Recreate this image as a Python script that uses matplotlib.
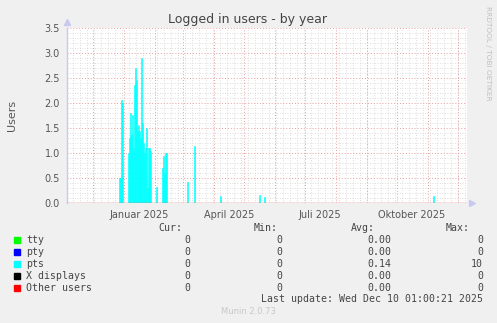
import matplotlib
matplotlib.use('Agg')
import matplotlib.pyplot as plt
import matplotlib.dates as mdates
from matplotlib.patches import Rectangle
import pandas as pd
import numpy as np

# daily averages of the pts users (all other days are 0)
pts_days = ['2024-12-27', '2024-12-28', '2024-12-29', '2024-12-30',
            '2025-01-05', '2025-01-06', '2025-01-07', '2025-01-08', '2025-01-09',
            '2025-01-10', '2025-01-11', '2025-01-12', '2025-01-13', '2025-01-14',
            '2025-01-15', '2025-01-16', '2025-01-17', '2025-01-18', '2025-01-19',
            '2025-01-20', '2025-01-21', '2025-01-22', '2025-01-23', '2025-01-24',
            '2025-01-25', '2025-01-26', '2025-01-27',
            '2025-02-02', '2025-02-08', '2025-02-09', '2025-02-10', '2025-02-11',
            '2025-02-12', '2025-03-05', '2025-03-12', '2025-04-07', '2025-05-16',
            '2025-05-21', '2025-11-06']
pts_vals = [0.5, 0.5, 2.05, 2.0,
            1.0, 1.3, 1.8, 1.35, 1.75,
            1.1, 2.35, 2.7, 2.45, 1.45,
            1.55, 1.45, 1.3, 2.9, 1.6,
            1.2, 1.0, 1.1, 1.5, 0.3,
            1.1, 1.1, 1.05,
            0.32, 0.7, 0.95, 0.6, 1.0,
            1.0, 0.42, 1.15, 0.15, 0.17,
            0.12, 0.14]

start = pd.Timestamp('2024-11-05 01:00')
end = pd.Timestamp('2025-12-10 01:00')

month_labels = ['Januar 2025', 'April 2025', 'Juli 2025', 'Oktober 2025']
month_label_dates = ['2025-01-16', '2025-04-16', '2025-07-16', '2025-10-16']

legend_names = ['tty', 'pty', 'pts', 'X displays', 'Other users']
legend_colors = ['#00ff00', '#0000ff', '#00ffff', '#000000', '#ff0000']
cur = ['0', '0', '0', '0', '0']
mins = ['0', '0', '0', '0', '0']
avgs = ['0.00', '0.00', '0.14', '0.00', '0.00']
maxs = ['0', '0', '10', '0', '0']

W, H = 497, 323
fig = plt.figure(figsize=(W / 100, H / 100), dpi=100, facecolor='#f0f0f0')
ax = fig.add_axes([67 / W, (H - 203) / H, 400 / W, 175 / H], facecolor='white')

days = pd.date_range(start.normalize(), end.normalize(), freq='D')
series = pd.Series(0.0, index=days)
series[pd.to_datetime(pts_days)] = pts_vals

ax.set_xlim(mdates.date2num(start), mdates.date2num(end))
ax.set_ylim(0, 3.5)

# grid: weekly minor (gray), monthly major (red), 0.1 / 0.5 on y
for d in pd.date_range(start, end, freq='W-MON'):
    ax.axvline(mdates.date2num(d), color='#d4d4d4', lw=0.6, ls=(0, (1, 2)), zorder=1)
for v in np.arange(0.1, 3.5, 0.1):
    if abs(v * 2 - round(v * 2)) > 1e-6:
        ax.axhline(v, color='#d4d4d4', lw=0.6, ls=(0, (1, 2)), zorder=1)
for d in pd.date_range(start, end, freq='MS'):
    ax.axvline(mdates.date2num(d), color='#e8a0a0', lw=0.7, ls=(0, (1, 2)), zorder=1.5)
for v in np.arange(0.5, 3.51, 0.5):
    ax.axhline(v, color='#e8a0a0', lw=0.7, ls=(0, (1, 2)), zorder=1.5)

# pts area, one bar per day
nz = series[series > 0]
ax.bar(mdates.date2num(nz.index), nz.values, width=1.0, align='edge',
       color='#00ffff', edgecolor='#00ffff', lw=0.4, zorder=2)
ax.axhline(0, color='#e06060', lw=1.0, zorder=3)

for s in ['top', 'right', 'bottom']:
    ax.spines[s].set_visible(False)
ax.spines['left'].set_color('#c8c8f0')
ax.spines['left'].set_linewidth(1)

ax.plot([0], [1.035], marker='^', ms=4, color='#c8c8f0', transform=ax.transAxes, clip_on=False)
ax.plot([1.013], [0], marker='>', ms=4, color='#c8c8f0', transform=ax.transAxes, clip_on=False)

ax.set_yticks(np.arange(0, 3.51, 0.5))
ax.set_yticklabels(['%.1f' % v for v in np.arange(0, 3.51, 0.5)])
ax.set_xticks(mdates.date2num(pd.to_datetime(month_label_dates)))
ax.set_xticklabels(month_labels)
ax.tick_params(length=0, labelsize=7, colors='#555555', pad=5)
ax.set_ylabel('Users', fontsize=8, color='#555555')
ax.yaxis.set_label_coords(-0.124, 0.5)

fig.text(248 / W, 1 - 19 / H, 'Logged in users - by year', ha='center', va='center',
         fontsize=9, color='#444444')
fig.text(488 / W, 1 - 53 / H, 'RRDTOOL / TOBI OETIKER', rotation=270, ha='center',
         va='center', fontsize=5.3, color='#c0c0c0')

mono = dict(family='DejaVu Sans Mono', fontsize=7.1, color='#444444', va='center')
for x, t in zip([182, 278, 375, 470], ['Cur:', 'Min:', 'Avg:', 'Max:']):
    fig.text(x / W, 1 - 228 / H, t, ha='right', **mono)
for i, name in enumerate(legend_names):
    y = 240 + 12 * i
    fig.patches.append(Rectangle((14 / W, 1 - (y + 3) / H), 6 / W, 6 / H,
                                 transform=fig.transFigure, color=legend_colors[i]))
    fig.text(26 / W, 1 - y / H, name, ha='left', **mono)
    fig.text(190 / W, 1 - y / H, cur[i], ha='right', **mono)
    fig.text(282 / W, 1 - y / H, mins[i], ha='right', **mono)
    fig.text(391 / W, 1 - y / H, avgs[i], ha='right', **mono)
    fig.text(483 / W, 1 - y / H, maxs[i], ha='right', **mono)
fig.text(483 / W, 1 - 299 / H, 'Last update: Wed Dec 10 01:00:21 2025', ha='right', **mono)
fig.text(248 / W, 1 - 312 / H, 'Munin 2.0.73', ha='center', va='center',
         fontsize=6, color='#c8c8c8')

fig.savefig('out.png', dpi=100, facecolor=fig.get_facecolor())
